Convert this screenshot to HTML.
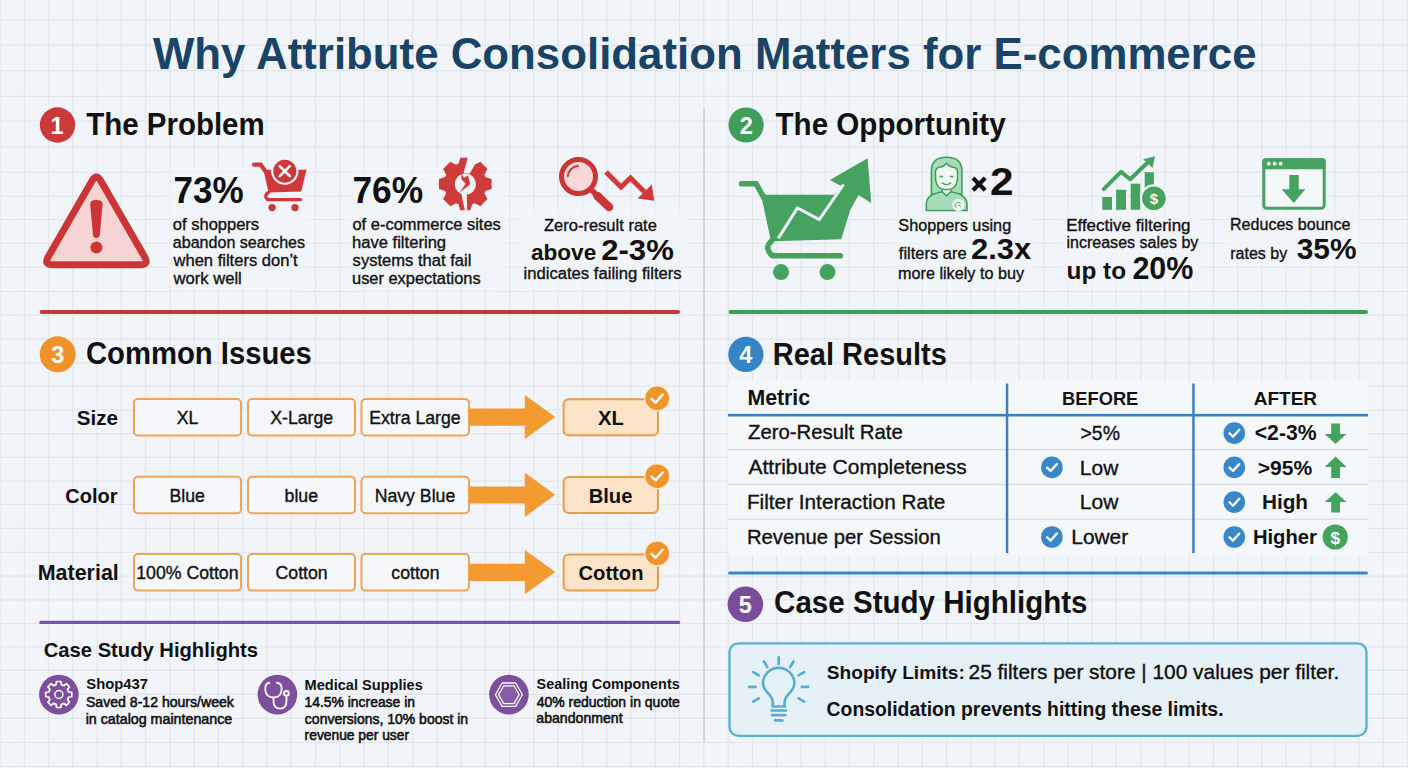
<!DOCTYPE html>
<html><head><meta charset="utf-8"><title>Why Attribute Consolidation Matters for E-commerce</title>
<style>
html,body{margin:0;padding:0;background:#f1f5f9;}
body{width:1408px;height:768px;overflow:hidden;}
svg{display:block;font-family:"Liberation Sans", sans-serif;}
</style></head><body>
<svg width="1408" height="768" viewBox="0 0 1408 768">
<rect x="0" y="0" width="1408" height="768" fill="#f1f5f9"/>
<defs><filter id="gblur" x="0" y="0" width="100%" height="100%"><feGaussianBlur stdDeviation="0.45"/></filter></defs><g stroke="#e2e7ec" stroke-width="1.2" filter="url(#gblur)"><line x1="0.0" y1="0" x2="0.0" y2="768"/><line x1="24.3" y1="0" x2="24.3" y2="768"/><line x1="48.5" y1="0" x2="48.5" y2="768"/><line x1="72.8" y1="0" x2="72.8" y2="768"/><line x1="97.1" y1="0" x2="97.1" y2="768"/><line x1="121.3" y1="0" x2="121.3" y2="768"/><line x1="145.6" y1="0" x2="145.6" y2="768"/><line x1="169.9" y1="0" x2="169.9" y2="768"/><line x1="194.2" y1="0" x2="194.2" y2="768"/><line x1="218.4" y1="0" x2="218.4" y2="768"/><line x1="242.7" y1="0" x2="242.7" y2="768"/><line x1="267.0" y1="0" x2="267.0" y2="768"/><line x1="291.2" y1="0" x2="291.2" y2="768"/><line x1="315.5" y1="0" x2="315.5" y2="768"/><line x1="339.8" y1="0" x2="339.8" y2="768"/><line x1="364.1" y1="0" x2="364.1" y2="768"/><line x1="388.3" y1="0" x2="388.3" y2="768"/><line x1="412.6" y1="0" x2="412.6" y2="768"/><line x1="436.9" y1="0" x2="436.9" y2="768"/><line x1="461.1" y1="0" x2="461.1" y2="768"/><line x1="485.4" y1="0" x2="485.4" y2="768"/><line x1="509.7" y1="0" x2="509.7" y2="768"/><line x1="533.9" y1="0" x2="533.9" y2="768"/><line x1="558.2" y1="0" x2="558.2" y2="768"/><line x1="582.5" y1="0" x2="582.5" y2="768"/><line x1="606.8" y1="0" x2="606.8" y2="768"/><line x1="631.0" y1="0" x2="631.0" y2="768"/><line x1="655.3" y1="0" x2="655.3" y2="768"/><line x1="679.6" y1="0" x2="679.6" y2="768"/><line x1="703.8" y1="0" x2="703.8" y2="768"/><line x1="728.1" y1="0" x2="728.1" y2="768"/><line x1="752.4" y1="0" x2="752.4" y2="768"/><line x1="776.6" y1="0" x2="776.6" y2="768"/><line x1="800.9" y1="0" x2="800.9" y2="768"/><line x1="825.2" y1="0" x2="825.2" y2="768"/><line x1="849.4" y1="0" x2="849.4" y2="768"/><line x1="873.7" y1="0" x2="873.7" y2="768"/><line x1="898.0" y1="0" x2="898.0" y2="768"/><line x1="922.3" y1="0" x2="922.3" y2="768"/><line x1="946.5" y1="0" x2="946.5" y2="768"/><line x1="970.8" y1="0" x2="970.8" y2="768"/><line x1="995.1" y1="0" x2="995.1" y2="768"/><line x1="1019.3" y1="0" x2="1019.3" y2="768"/><line x1="1043.6" y1="0" x2="1043.6" y2="768"/><line x1="1067.9" y1="0" x2="1067.9" y2="768"/><line x1="1092.2" y1="0" x2="1092.2" y2="768"/><line x1="1116.4" y1="0" x2="1116.4" y2="768"/><line x1="1140.7" y1="0" x2="1140.7" y2="768"/><line x1="1165.0" y1="0" x2="1165.0" y2="768"/><line x1="1189.2" y1="0" x2="1189.2" y2="768"/><line x1="1213.5" y1="0" x2="1213.5" y2="768"/><line x1="1237.8" y1="0" x2="1237.8" y2="768"/><line x1="1262.0" y1="0" x2="1262.0" y2="768"/><line x1="1286.3" y1="0" x2="1286.3" y2="768"/><line x1="1310.6" y1="0" x2="1310.6" y2="768"/><line x1="1334.8" y1="0" x2="1334.8" y2="768"/><line x1="1359.1" y1="0" x2="1359.1" y2="768"/><line x1="1383.4" y1="0" x2="1383.4" y2="768"/><line x1="1407.7" y1="0" x2="1407.7" y2="768"/><line x1="0" y1="20.2" x2="1408" y2="20.2"/><line x1="0" y1="45.3" x2="1408" y2="45.3"/><line x1="0" y1="70.7" x2="1408" y2="70.7"/><line x1="0" y1="96.4" x2="1408" y2="96.4"/><line x1="0" y1="121.2" x2="1408" y2="121.2"/><line x1="0" y1="146.9" x2="1408" y2="146.9"/><line x1="0" y1="172.3" x2="1408" y2="172.3"/><line x1="0" y1="196.4" x2="1408" y2="196.4"/><line x1="0" y1="219.5" x2="1408" y2="219.5"/><line x1="0" y1="243.4" x2="1408" y2="243.4"/><line x1="0" y1="267.4" x2="1408" y2="267.4"/><line x1="0" y1="291.5" x2="1408" y2="291.5"/><line x1="0" y1="315.2" x2="1408" y2="315.2"/><line x1="0" y1="338.9" x2="1408" y2="338.9"/><line x1="0" y1="362.6" x2="1408" y2="362.6"/><line x1="0" y1="386.2" x2="1408" y2="386.2"/><line x1="0" y1="409.9" x2="1408" y2="409.9"/><line x1="0" y1="433.6" x2="1408" y2="433.6"/><line x1="0" y1="457.3" x2="1408" y2="457.3"/><line x1="0" y1="481.1" x2="1408" y2="481.1"/><line x1="0" y1="504.5" x2="1408" y2="504.5"/><line x1="0" y1="528.3" x2="1408" y2="528.3"/><line x1="0" y1="552.3" x2="1408" y2="552.3"/><line x1="0" y1="576.1" x2="1408" y2="576.1"/><line x1="0" y1="599.9" x2="1408" y2="599.9"/><line x1="0" y1="623.5" x2="1408" y2="623.5"/><line x1="0" y1="647.0" x2="1408" y2="647.0"/><line x1="0" y1="670.3" x2="1408" y2="670.3"/><line x1="0" y1="694.4" x2="1408" y2="694.4"/><line x1="0" y1="718.4" x2="1408" y2="718.4"/><line x1="0" y1="742.5" x2="1408" y2="742.5"/><line x1="0" y1="766.5" x2="1408" y2="766.5"/></g>
<defs><filter id="gb" x="-20%" y="-20%" width="140%" height="140%"><feGaussianBlur stdDeviation="5"/></filter></defs>
<g filter="url(#gb)" opacity="0.85"><rect x="168" y="168" width="140" height="122" rx="8" fill="#f1f5f9"/><rect x="348" y="168" width="158" height="122" rx="8" fill="#f1f5f9"/><rect x="518" y="210" width="170" height="78" rx="8" fill="#f1f5f9"/><rect x="893" y="214" width="142" height="72" rx="8" fill="#f1f5f9"/><rect x="1061" y="214" width="142" height="72" rx="8" fill="#f1f5f9"/><rect x="1225" y="214" width="136" height="52" rx="8" fill="#f1f5f9"/></g>
<text x="153.00" y="68.60" font-size="43.82" font-weight="bold" fill="#1a4368" transform="translate(0,68.60) scale(1,0.9972) translate(0,-68.60)">Why Attribute Consolidation Matters for E-commerce</text>
<rect x="703.3" y="107" width="1.6" height="635.5" fill="#c9d1da"/>
<circle cx="57.5" cy="125" r="17.7" fill="#c93a3a"/>
<text x="50.51" y="133.60" font-size="23.5" font-weight="bold" fill="#ffffff">1</text>
<text x="86.21" y="135.20" font-size="29.49" font-weight="bold" fill="#111111" transform="translate(0,135.20) scale(1,1.0396) translate(0,-135.20)">The Problem</text>
<circle cx="746.1" cy="125" r="17.6" fill="#3f9e5a"/>
<text x="739.64" y="133.60" font-size="23.5" font-weight="bold" fill="#ffffff">2</text>
<text x="775.50" y="135.20" font-size="29.6" font-weight="bold" fill="#111111" transform="translate(0,135.20) scale(1,1.0358) translate(0,-135.20)">The Opportunity</text>
<circle cx="57.7" cy="354.3" r="18" fill="#f0922c"/>
<text x="51.30" y="362.90" font-size="23.5" font-weight="bold" fill="#ffffff">3</text>
<text x="85.93" y="364.50" font-size="29.26" font-weight="bold" fill="#111111" transform="translate(0,364.50) scale(1,1.0478) translate(0,-364.50)">Common Issues</text>
<circle cx="745.9" cy="354.4" r="17.6" fill="#3584c6"/>
<text x="739.26" y="363.00" font-size="23.5" font-weight="bold" fill="#ffffff">4</text>
<text x="772.81" y="364.80" font-size="29.01" font-weight="bold" fill="#111111" transform="translate(0,364.80) scale(1,1.0568) translate(0,-364.80)">Real Results</text>
<circle cx="745.4" cy="604.3" r="17.8" fill="#7a4d9b"/>
<text x="738.82" y="612.90" font-size="23.5" font-weight="bold" fill="#ffffff">5</text>
<text x="774.12" y="612.60" font-size="29.55" font-weight="bold" fill="#111111" transform="translate(0,612.60) scale(1,1.0375) translate(0,-612.60)">Case Study Highlights</text>
<rect x="39.6" y="310" width="640.4" height="4" rx="2" fill="#c13b3b"/>
<rect x="728.5" y="310" width="639.5" height="4" rx="2" fill="#3f9e5a"/>
<rect x="39.2" y="620.8" width="641" height="3.1" rx="1.5" fill="#7a55a0"/>
<rect x="728" y="571.6" width="640" height="3" rx="1.5" fill="#3a86c4"/>
<path d="M91.91,181.00 L48.09,257.00 Q43.60,264.80 52.60,264.80 L140.20,264.80 Q149.20,264.80 144.71,257.00 L100.89,181.00 Q96.40,173.20 91.91,181.00 Z" fill="#f8d3d3" stroke="#cc3535" stroke-width="7" stroke-linejoin="round"/>
<path d="M90.2,204 Q90.2,200 96.4,200 Q102.6,200 102.6,204 L99.8,235 Q99.4,238 96.4,238 Q93.4,238 93,235 Z" fill="#cc3535"/>
<circle cx="96.4" cy="247.5" r="6" fill="#cc3535"/>
<g fill="#cf3838" stroke="none">
<polyline points="254,164.6 260.5,164.6 266,172" fill="none" stroke="#cf3838" stroke-width="4.2" stroke-linecap="round" stroke-linejoin="round"/>
<path d="M263.5,169.8 L306.5,169.8 L301.2,191.6 L268.5,192.6 Z"/>
<path d="M268.5,192.5 Q263.5,195.5 267.5,199.6 L300.5,199.6" fill="none" stroke="#cf3838" stroke-width="3.4" stroke-linecap="round"/>
<circle cx="272.1" cy="207.6" r="3.7"/><circle cx="295" cy="207.6" r="3.7"/>
</g>
<circle cx="284.8" cy="171.2" r="13.6" fill="#f1f5f9"/>
<circle cx="284.8" cy="171.2" r="11.5" fill="#cf3838"/>
<path d="M279.8,166.2 L289.8,176.2 M289.8,166.2 L279.8,176.2" stroke="#fff" stroke-width="2.6" stroke-linecap="round"/>
<path d="M458.40,163.85 L460.24,157.68 L470.36,157.68 L472.20,163.85 A21.3,21.3 0 0 1 474.67,164.87 L480.33,161.81 L487.49,168.97 L484.43,174.63 A21.3,21.3 0 0 1 485.45,177.10 L491.62,178.94 L491.62,189.06 L485.45,190.90 A21.3,21.3 0 0 1 484.43,193.37 L487.49,199.03 L480.33,206.19 L474.67,203.13 A21.3,21.3 0 0 1 472.20,204.15 L470.36,210.32 L460.24,210.32 L458.40,204.15 A21.3,21.3 0 0 1 455.93,203.13 L450.27,206.19 L443.11,199.03 L446.17,193.37 A21.3,21.3 0 0 1 445.15,190.90 L438.98,189.06 L438.98,178.94 L445.15,177.10 A21.3,21.3 0 0 1 446.17,174.63 L443.11,168.97 L450.27,161.81 L455.93,164.87 A21.3,21.3 0 0 1 458.40,163.85 Z" fill="#cf3a3a"/>
<circle cx="465.4" cy="184.2" r="10.6" fill="#eef2f6"/>
<polygon points="468.3,155.5 474.5,155.5 474.8,164.5 469.8,173.6 463.5,173.2" fill="#f1f5f9"/>
<polygon points="461.2,193.2 466.8,193.2 467.2,212 465.2,212" fill="#f1f5f9"/>
<polygon points="461.2,173.5 464,177.8 468,175.2 470.2,184.2 459.8,192.6 465.6,183.8 461.6,179.6" fill="#cf3a3a"/>
<circle cx="578.5" cy="176.6" r="17" fill="#f8d8d8" stroke="#cc3535" stroke-width="5"/>
<path d="M567.8,176.2 A11,11 0 0 1 577.9,166.1" fill="none" stroke="#cc3535" stroke-width="2" stroke-linecap="round"/>
<line x1="591" y1="189.5" x2="598" y2="196.5" stroke="#cc3535" stroke-width="5.5"/>
<line x1="597.5" y1="196" x2="609" y2="207" stroke="#cc3535" stroke-width="8.5" stroke-linecap="round"/>
<polyline points="606,172 621,187 630.5,178 644.5,192" fill="none" stroke="#d23a3a" stroke-width="5" stroke-linejoin="miter"/>
<polygon points="651.8,184.5 654.2,200.8 637.6,198.6" fill="#d23a3a"/>
<text x="173.52" y="202.80" font-size="35.08" font-weight="bold" fill="#111111" transform="translate(0,202.80) scale(1,1.0659) translate(0,-202.80)">73%</text>
<text x="172.84" y="230.40" font-size="16.52" font-weight="normal" fill="#111111" stroke="#111111" stroke-width="0.35">of shoppers</text>
<text x="172.78" y="248.20" font-size="16.09" font-weight="normal" fill="#111111" stroke="#111111" stroke-width="0.35">abandon searches</text>
<text x="173.50" y="266.10" font-size="16.56" font-weight="normal" fill="#111111" stroke="#111111" stroke-width="0.35">when filters don’t</text>
<text x="173.50" y="283.80" font-size="16.61" font-weight="normal" fill="#111111" stroke="#111111" stroke-width="0.35">work well</text>
<text x="352.41" y="202.80" font-size="35.39" font-weight="bold" fill="#111111" transform="translate(0,202.80) scale(1,1.0566) translate(0,-202.80)">76%</text>
<text x="352.44" y="230.40" font-size="16.49" font-weight="normal" fill="#111111" stroke="#111111" stroke-width="0.35">of e-commerce sites</text>
<text x="351.94" y="248.20" font-size="16.62" font-weight="normal" fill="#111111" stroke="#111111" stroke-width="0.35">have filtering</text>
<text x="352.60" y="266.10" font-size="16.58" font-weight="normal" fill="#111111" stroke="#111111" stroke-width="0.35">systems that fail</text>
<text x="352.03" y="283.80" font-size="16.41" font-weight="normal" fill="#111111" stroke="#111111" stroke-width="0.35">user expectations</text>
<text x="543.90" y="230.60" font-size="16.55" font-weight="normal" fill="#111111" stroke="#111111" stroke-width="0.35">Zero-result rate</text>
<text x="530.92" y="259.70" font-size="22.62" font-weight="bold" fill="#111111">above</text>
<text x="601.21" y="259.70" font-size="31.12" font-weight="bold" fill="#111111" transform="translate(0,259.70) scale(1,0.9760) translate(0,-259.70)">2-3%</text>
<text x="523.52" y="279.10" font-size="16.65" font-weight="normal" fill="#111111" stroke="#111111" stroke-width="0.35">indicates failing filters</text>
<g fill="#45a25f">
<polyline points="741.5,183.7 756,183.7 763.5,197" fill="none" stroke="#45a25f" stroke-width="5.6" stroke-linecap="round" stroke-linejoin="round"/>
<path d="M761,194.7 L834,194.7 L842,186.5 L829.9,180.1 L867.6,158.2 L871.2,202.9 L858.5,195 L850.3,210.1 L841.2,239.3 L771,241.3 Z"/>
<path d="M771.5,241 Q763.5,248.5 772.5,255.7 L840.3,255.7" fill="none" stroke="#45a25f" stroke-width="5.6" stroke-linecap="round"/>
<circle cx="781" cy="272.1" r="8"/><circle cx="827.5" cy="272.1" r="8"/>
</g>
<polyline points="778.3,238.4 797.4,208 819.3,219.6 843.5,184.5" fill="none" stroke="#f1f5f9" stroke-width="3" stroke-linejoin="miter"/>
<path d="M931.4,194 L931.4,171 Q931.4,157.2 946.5,157.2 Q961.9,157.2 961.9,171 L961.9,194 Z" fill="#a8dbb7" stroke="#3f9c5b" stroke-width="1.6"/>
<path d="M926.3,210.5 L926.3,203 Q927.5,192.5 946.5,191.5 Q965.5,192.5 967,203 L967,210.5 Z" fill="#a8dbb7" stroke="#3f9c5b" stroke-width="1.6"/>
<path d="M941,190 L946.5,196 L952,190" fill="#eef8f1" stroke="#3f9c5b" stroke-width="1.4"/>
<path d="M935.4,172 Q935.6,167.5 940,167.2 Q944,166.5 946.3,163.5 Q949,166.5 953,167.2 Q957.4,167.5 957.6,172 L957.4,180 Q956,189.8 946.5,189.8 Q937,189.8 935.6,180 Z" fill="#eef8f1" stroke="#3f9c5b" stroke-width="1.5"/>
<path d="M940,176.5 L942.5,176.5 M950.5,176.5 L953,176.5" stroke="#3f9c5b" stroke-width="1.4" stroke-linecap="round"/>
<path d="M942.2,183 Q946.5,186.2 950.8,183" fill="none" stroke="#3f9c5b" stroke-width="1.4" stroke-linecap="round"/>
<circle cx="958.5" cy="205" r="6.2" fill="#f4faf6"/>
<path d="M956,207.5 A3,3 0 1 1 960.5,203.5 M958,205 L961,206.5" fill="none" stroke="#3f9c5b" stroke-width="1"/>
<path d="M973,178 L985.2,190.2 M985.2,178 L973,190.2" stroke="#111111" stroke-width="4.2" stroke-linecap="butt"/>
<text x="990.02" y="194.80" font-size="42.29" font-weight="bold" fill="#111111" transform="translate(0,194.80) scale(1,0.9316) translate(0,-194.80)">2</text>
<text x="898.37" y="230.70" font-size="16.24" font-weight="normal" fill="#111111" stroke="#111111" stroke-width="0.35">Shoppers using</text>
<text x="898.85" y="259.10" font-size="16.49" font-weight="normal" fill="#111111" stroke="#111111" stroke-width="0.35">filters are</text>
<text x="970.91" y="259.10" font-size="31.0" font-weight="bold" fill="#111111" transform="translate(0,259.10) scale(1,0.9567) translate(0,-259.10)">2.3x</text>
<text x="898.05" y="279.10" font-size="16.21" font-weight="normal" fill="#111111" stroke="#111111" stroke-width="0.35">more likely to buy</text>
<g fill="#45a25f"><rect x="1102.3" y="197" width="9.7" height="12.8"/><rect x="1116.1" y="189.7" width="9.9" height="20.1"/><rect x="1130.7" y="183.7" width="9.5" height="26.1"/><rect x="1144.7" y="172.2" width="9.2" height="37.6"/></g>
<circle cx="1153.9" cy="198.3" r="14" fill="#f1f5f9"/>
<circle cx="1153.9" cy="198.3" r="11.8" fill="#45a25f"/>
<text x="1149.74" y="204.30" font-size="15" font-weight="bold" fill="#ffffff">$</text>
<polyline points="1103.7,189.2 1121,171.9 1130.2,179.2 1148.5,161.8" fill="none" stroke="#45a25f" stroke-width="4" stroke-linecap="round" stroke-linejoin="round"/>
<polygon points="1155,156.3 1152.5,168 1143.2,159.2" fill="#45a25f"/>
<text x="1066.14" y="230.50" font-size="17.0" font-weight="normal" fill="#111111" stroke="#111111" stroke-width="0.35">Effective filtering</text>
<text x="1066.46" y="248.40" font-size="16.04" font-weight="normal" fill="#111111" stroke="#111111" stroke-width="0.35">increases sales by</text>
<text x="1066.54" y="279.00" font-size="24.39" font-weight="bold" fill="#111111">up to</text>
<text x="1132.43" y="279.00" font-size="30.46" font-weight="bold" fill="#111111" transform="translate(0,279.00) scale(1,1.0159) translate(0,-279.00)">20%</text>
<rect x="1263.8" y="159.7" width="60.4" height="48.6" rx="3" fill="#f5f8fa" stroke="#45a25f" stroke-width="3"/>
<rect x="1262.3" y="158.2" width="63.4" height="11" rx="3" fill="#45a25f"/>
<g fill="#fff"><circle cx="1268.8" cy="163.7" r="1.9"/><circle cx="1274.7" cy="163.7" r="1.9"/><circle cx="1280.7" cy="163.7" r="1.9"/></g>
<polygon points="1289.3,175 1298.7,175 1298.7,189.2 1305.3,189.2 1293.8,202.9 1281.6,189.2 1289.3,189.2" fill="#45a25f"/>
<text x="1230.02" y="230.20" font-size="16.06" font-weight="normal" fill="#111111" stroke="#111111" stroke-width="0.35">Reduces bounce</text>
<text x="1230.26" y="259.00" font-size="16.01" font-weight="normal" fill="#111111" stroke="#111111" stroke-width="0.35">rates by</text>
<text x="1296.75" y="259.30" font-size="29.9" font-weight="bold" fill="#111111" transform="translate(0,259.30) scale(1,0.9583) translate(0,-259.30)">35%</text>
<text x="76.68" y="424.80" font-size="20.62" font-weight="bold" fill="#111111">Size</text>
<rect x="134" y="399.0" width="107" height="36.5" rx="4" fill="#f5f7fa" stroke="#eaa55a" stroke-width="2"/>
<text x="176.75" y="423.70" font-size="17.7" font-weight="normal" fill="#111111" stroke="#111111" stroke-width="0.35">XL</text>
<rect x="248" y="399.0" width="107" height="36.5" rx="4" fill="#f5f7fa" stroke="#eaa55a" stroke-width="2"/>
<text x="270.22" y="423.70" font-size="17.7" font-weight="normal" fill="#111111" stroke="#111111" stroke-width="0.35">X-Large</text>
<rect x="361.5" y="399.0" width="107.5" height="36.5" rx="4" fill="#f5f7fa" stroke="#eaa55a" stroke-width="2"/>
<text x="369.19" y="423.70" font-size="17.7" font-weight="normal" fill="#111111" stroke="#111111" stroke-width="0.35">Extra Large</text>
<polygon points="469,408.6 524.8,408.6 524.8,395.0 555.3,416.9 524.8,439.1 524.8,425.8 469,425.8" fill="#f39a30"/>
<rect x="563.6" y="399.3" width="94.4" height="36" rx="5" fill="#fde3c8" stroke="#eb9c48" stroke-width="2"/>
<text x="598.12" y="425.30" font-size="20.2" font-weight="bold" fill="#111111">XL</text>
<circle cx="657.2" cy="398.4" r="13" fill="#fbe9d6"/>
<circle cx="657.2" cy="398.4" r="11.8" fill="#f0942c"/>
<polyline points="651.5,398.8 655.5,402.6 662.8,394.6" fill="none" stroke="#fff" stroke-width="2.4" stroke-linecap="round" stroke-linejoin="round"/>
<text x="65.30" y="502.60" font-size="20.0" font-weight="bold" fill="#111111">Color</text>
<rect x="134" y="476.8" width="107" height="36.5" rx="4" fill="#f5f7fa" stroke="#eaa55a" stroke-width="2"/>
<text x="169.49" y="501.50" font-size="17.7" font-weight="normal" fill="#111111" stroke="#111111" stroke-width="0.35">Blue</text>
<rect x="248" y="476.8" width="107" height="36.5" rx="4" fill="#f5f7fa" stroke="#eaa55a" stroke-width="2"/>
<text x="284.60" y="501.50" font-size="17.7" font-weight="normal" fill="#111111" stroke="#111111" stroke-width="0.35">blue</text>
<rect x="361.5" y="476.8" width="107.5" height="36.5" rx="4" fill="#f5f7fa" stroke="#eaa55a" stroke-width="2"/>
<text x="374.63" y="501.50" font-size="17.7" font-weight="normal" fill="#111111" stroke="#111111" stroke-width="0.35">Navy Blue</text>
<polygon points="469,486.4 524.8,486.4 524.8,472.8 555.3,494.7 524.8,516.9 524.8,503.6 469,503.6" fill="#f39a30"/>
<rect x="563.6" y="477.1" width="94.4" height="36" rx="5" fill="#fde3c8" stroke="#eb9c48" stroke-width="2"/>
<text x="588.63" y="503.10" font-size="20.2" font-weight="bold" fill="#111111">Blue</text>
<circle cx="657.2" cy="476.2" r="13" fill="#fbe9d6"/>
<circle cx="657.2" cy="476.2" r="11.8" fill="#f0942c"/>
<polyline points="651.5,476.6 655.5,480.4 662.8,472.4" fill="none" stroke="#fff" stroke-width="2.4" stroke-linecap="round" stroke-linejoin="round"/>
<text x="37.71" y="579.90" font-size="21.46" font-weight="bold" fill="#111111">Material</text>
<rect x="134" y="554.1" width="107" height="36.5" rx="4" fill="#f5f7fa" stroke="#eaa55a" stroke-width="2"/>
<text x="136.26" y="578.80" font-size="17.7" font-weight="normal" fill="#111111" stroke="#111111" stroke-width="0.35">100% Cotton</text>
<rect x="248" y="554.1" width="107" height="36.5" rx="4" fill="#f5f7fa" stroke="#eaa55a" stroke-width="2"/>
<text x="275.57" y="578.80" font-size="17.7" font-weight="normal" fill="#111111" stroke="#111111" stroke-width="0.35">Cotton</text>
<rect x="361.5" y="554.1" width="107.5" height="36.5" rx="4" fill="#f5f7fa" stroke="#eaa55a" stroke-width="2"/>
<text x="391.31" y="578.80" font-size="17.7" font-weight="normal" fill="#111111" stroke="#111111" stroke-width="0.35">cotton</text>
<polygon points="469,563.7 524.8,563.7 524.8,550.1 555.3,572.0 524.8,594.2 524.8,580.9 469,580.9" fill="#f39a30"/>
<rect x="563.6" y="554.4" width="94.4" height="36" rx="5" fill="#fde3c8" stroke="#eb9c48" stroke-width="2"/>
<text x="578.48" y="580.40" font-size="20.2" font-weight="bold" fill="#111111">Cotton</text>
<circle cx="657.2" cy="553.5" r="13" fill="#fbe9d6"/>
<circle cx="657.2" cy="553.5" r="11.8" fill="#f0942c"/>
<polyline points="651.5,553.9 655.5,557.7 662.8,549.7" fill="none" stroke="#fff" stroke-width="2.4" stroke-linecap="round" stroke-linejoin="round"/>
<text x="43.79" y="656.50" font-size="20.2" font-weight="bold" fill="#111111">Case Study Highlights</text>
<circle cx="58.9" cy="694.6" r="19.8" fill="#7d4f9e"/>
<circle cx="277.4" cy="694.6" r="19.8" fill="#7d4f9e"/>
<circle cx="508.9" cy="694.6" r="19.8" fill="#7d4f9e"/>
<path d="M56.18,684.62 L56.47,681.49 L60.93,681.49 L61.22,684.62 A10.2,10.2 0 0 1 63.90,685.73 L66.32,683.72 L69.48,686.88 L67.47,689.30 A10.2,10.2 0 0 1 68.58,691.98 L71.71,692.27 L71.71,696.73 L68.58,697.02 A10.2,10.2 0 0 1 67.47,699.70 L69.48,702.12 L66.32,705.28 L63.90,703.27 A10.2,10.2 0 0 1 61.22,704.38 L60.93,707.51 L56.47,707.51 L56.18,704.38 A10.2,10.2 0 0 1 53.50,703.27 L51.08,705.28 L47.92,702.12 L49.93,699.70 A10.2,10.2 0 0 1 48.82,697.02 L45.69,696.73 L45.69,692.27 L48.82,691.98 A10.2,10.2 0 0 1 49.93,689.30 L47.92,686.88 L51.08,683.72 L53.50,685.73 A10.2,10.2 0 0 1 56.18,684.62 Z" fill="none" stroke="#fff" stroke-width="1.7" stroke-linejoin="round"/>
<circle cx="58.9" cy="694.5" r="4" fill="none" stroke="#fff" stroke-width="1.5"/>
<path d="M268.6,683 Q265,683.5 265.3,690 Q266,697.3 273.5,697.5 Q281,697.3 281.6,690 Q282,683.5 277.8,683 M273.5,697.5 L273.5,701 Q273.5,708.6 280,708.6 Q286.5,708.6 286.5,701 L286.5,696.8" fill="none" stroke="#fff" stroke-width="1.8" stroke-linecap="round"/>
<circle cx="268.9" cy="683" r="1.3" fill="#fff"/><circle cx="277.5" cy="683" r="1.3" fill="#fff"/>
<circle cx="286.4" cy="693.4" r="3.3" fill="#fff"/><circle cx="286.4" cy="693.4" r="1.4" fill="#7d4f9e"/>
<polygon points="522.40,694.70 515.65,706.39 502.15,706.39 495.40,694.70 502.15,683.01 515.65,683.01" fill="none" stroke="#fff" stroke-width="1.3" stroke-linejoin="round"/>
<polygon points="519.20,694.70 514.05,703.62 503.75,703.62 498.60,694.70 503.75,685.78 514.05,685.78" fill="#8a5aab" stroke="#fff" stroke-width="1.3" stroke-linejoin="round"/>
<text x="86.36" y="689.20" font-size="14.77" font-weight="bold" fill="#111111">Shop437</text>
<text x="85.97" y="707.20" font-size="14.08" font-weight="normal" fill="#111111" stroke="#111111" stroke-width="0.55">Saved 8-12 hours/week</text>
<text x="85.67" y="723.60" font-size="14.25" font-weight="normal" fill="#111111" stroke="#111111" stroke-width="0.55">in catalog maintenance</text>
<text x="304.55" y="689.50" font-size="14.59" font-weight="bold" fill="#111111">Medical Supplies</text>
<text x="304.46" y="707.10" font-size="13.92" font-weight="normal" fill="#111111" stroke="#111111" stroke-width="0.55">14.5% increase in</text>
<text x="304.87" y="723.50" font-size="13.99" font-weight="normal" fill="#111111" stroke="#111111" stroke-width="0.55">conversions, 10% boost in</text>
<text x="304.60" y="739.80" font-size="13.82" font-weight="normal" fill="#111111" stroke="#111111" stroke-width="0.55">revenue per user</text>
<text x="536.57" y="689.20" font-size="14.4" font-weight="bold" fill="#111111">Sealing Components</text>
<text x="536.65" y="707.20" font-size="14.0" font-weight="normal" fill="#111111" stroke="#111111" stroke-width="0.55">40% reduction in quote</text>
<text x="536.37" y="723.10" font-size="14.1" font-weight="normal" fill="#111111" stroke="#111111" stroke-width="0.55">abandonment</text>
<rect x="728" y="381" width="640" height="174" fill="#f5f8fb"/>
<text x="747.42" y="405.20" font-size="21.3" font-weight="bold" fill="#111111">Metric</text>
<text x="1062.11" y="404.70" font-size="18.3" font-weight="bold" fill="#111111">BEFORE</text>
<text x="1253.72" y="404.70" font-size="19.03" font-weight="bold" fill="#111111">AFTER</text>
<rect x="728" y="449.0" width="640" height="1.2" fill="#d4dbe3"/>
<rect x="728" y="483.79999999999995" width="640" height="1.2" fill="#d4dbe3"/>
<rect x="728" y="518.6" width="640" height="1.2" fill="#d4dbe3"/>
<rect x="728" y="413.9" width="640" height="2.6" fill="#3a80c2"/>
<rect x="1005.8" y="383.6" width="2.5" height="169.6" fill="#3a80c2"/>
<rect x="1192.2" y="383.6" width="2.5" height="169.6" fill="#3a80c2"/>
<text x="747.99" y="439.40" font-size="20.34" font-weight="normal" fill="#111111" stroke="#111111" stroke-width="0.35">Zero-Result Rate</text>
<text x="748.50" y="474.00" font-size="21.0" font-weight="normal" fill="#111111" stroke="#111111" stroke-width="0.35">Attribute Completeness</text>
<text x="746.94" y="509.00" font-size="20.76" font-weight="normal" fill="#111111" stroke="#111111" stroke-width="0.35">Filter Interaction Rate</text>
<text x="746.98" y="544.00" font-size="20.27" font-weight="normal" fill="#111111" stroke="#111111" stroke-width="0.35">Revenue per Session</text>
<text x="1080.53" y="439.60" font-size="19.43" font-weight="normal" fill="#111111" stroke="#111111" stroke-width="0.35">&gt;5%</text>
<circle cx="1051.9" cy="467.4" r="10.8" fill="#3b86c8"/>
<polyline points="1047.1,467.6 1050.6,471.0 1056.9,464.0" fill="none" stroke="#fff" stroke-width="2.3" stroke-linecap="round" stroke-linejoin="round"/>
<text x="1079.82" y="474.50" font-size="21.03" font-weight="normal" fill="#111111" stroke="#111111" stroke-width="0.35">Low</text>
<text x="1079.82" y="509.20" font-size="21.03" font-weight="normal" fill="#111111" stroke="#111111" stroke-width="0.35">Low</text>
<circle cx="1051.9" cy="537" r="10.8" fill="#3b86c8"/>
<polyline points="1047.1,537.2 1050.6,540.6 1056.9,533.6" fill="none" stroke="#fff" stroke-width="2.3" stroke-linecap="round" stroke-linejoin="round"/>
<text x="1071.33" y="543.90" font-size="20.88" font-weight="normal" fill="#111111" stroke="#111111" stroke-width="0.35">Lower</text>
<circle cx="1234.3" cy="433.1" r="10.8" fill="#3b86c8"/>
<polyline points="1229.5,433.3 1233.0,436.7 1239.3,429.7" fill="none" stroke="#fff" stroke-width="2.3" stroke-linecap="round" stroke-linejoin="round"/>
<circle cx="1234.3" cy="467.4" r="10.8" fill="#3b86c8"/>
<polyline points="1229.5,467.6 1233.0,471.0 1239.3,464.0" fill="none" stroke="#fff" stroke-width="2.3" stroke-linecap="round" stroke-linejoin="round"/>
<circle cx="1234.3" cy="502.1" r="10.8" fill="#3b86c8"/>
<polyline points="1229.5,502.3 1233.0,505.7 1239.3,498.7" fill="none" stroke="#fff" stroke-width="2.3" stroke-linecap="round" stroke-linejoin="round"/>
<circle cx="1234.3" cy="537" r="10.8" fill="#3b86c8"/>
<polyline points="1229.5,537.2 1233.0,540.6 1239.3,533.6" fill="none" stroke="#fff" stroke-width="2.3" stroke-linecap="round" stroke-linejoin="round"/>
<text x="1254.75" y="439.60" font-size="21.19" font-weight="bold" fill="#111111">&lt;2-3%</text>
<text x="1257.66" y="474.50" font-size="21.07" font-weight="bold" fill="#111111">&gt;95%</text>
<text x="1261.95" y="509.20" font-size="20.76" font-weight="bold" fill="#111111">High</text>
<text x="1252.89" y="543.90" font-size="20.23" font-weight="bold" fill="#111111">Higher</text>
<polygon points="1331.2,423.4 1340.0,423.4 1340.0,434.1 1346.5,434.1 1335.6,443.9 1324.7,434.1 1331.2,434.1" fill="#45a25f"/>
<polygon points="1331.2,478 1340.0,478 1340.0,466.9 1346.5,466.9 1335.6,456.6 1324.7,466.9 1331.2,466.9" fill="#45a25f"/>
<polygon points="1331.2,512.6 1340.0,512.6 1340.0,502.0 1346.5,502.0 1335.6,492.2 1324.7,502.0 1331.2,502.0" fill="#45a25f"/>
<circle cx="1335.2" cy="537" r="12.6" fill="#45a25f"/>
<text x="1330.48" y="543.60" font-size="17" font-weight="bold" fill="#ffffff">$</text>
<rect x="729.5" y="643.3" width="637" height="92.6" rx="9" fill="#e5f0f7" stroke="#5aaed2" stroke-width="2.3"/>
<g fill="none" stroke="#5aacd2" stroke-width="2.7" stroke-linecap="round">
<path d="M772.8,706.5 L772.8,702 Q772.8,698.5 769.5,694.8 Q763,688.5 763,683.5 A15.7,15.7 0 1 1 794.4,683.5 Q794.4,688.5 787.9,694.8 Q784.6,698.5 784.6,702 L784.6,706.5 Z"/>
<line x1="771.5" y1="710.5" x2="785.9" y2="710.5"/><line x1="772" y1="715.1" x2="785.4" y2="715.1"/><line x1="775" y1="720.3" x2="782.4" y2="720.3"/>
<line x1="778.7" y1="663.9" x2="778.7" y2="657.4"/>
<line x1="790.2" y1="667.0" x2="793.5" y2="661.4"/>
<line x1="767.2" y1="667.0" x2="764.0" y2="661.4"/>
<line x1="798.6" y1="675.4" x2="804.2" y2="672.1"/>
<line x1="758.8" y1="675.4" x2="753.2" y2="672.1"/>
<line x1="801.7" y1="686.9" x2="808.2" y2="686.9"/>
<line x1="755.7" y1="686.9" x2="749.2" y2="686.9"/>
<line x1="798.6" y1="698.4" x2="804.2" y2="701.6"/>
<line x1="758.8" y1="698.4" x2="753.2" y2="701.6"/>
</g>
<text x="826.83" y="678.70" font-size="19.11" font-weight="bold" fill="#111111">Shopify Limits:</text>
<text x="968.56" y="678.70" font-size="20.87" font-weight="normal" fill="#111111" stroke="#111111" stroke-width="0.35">25 filters per store | 100 values per filter.</text>
<text x="826.62" y="715.90" font-size="19.38" font-weight="bold" fill="#111111">Consolidation prevents hitting these limits.</text>
</svg>
</body></html>
